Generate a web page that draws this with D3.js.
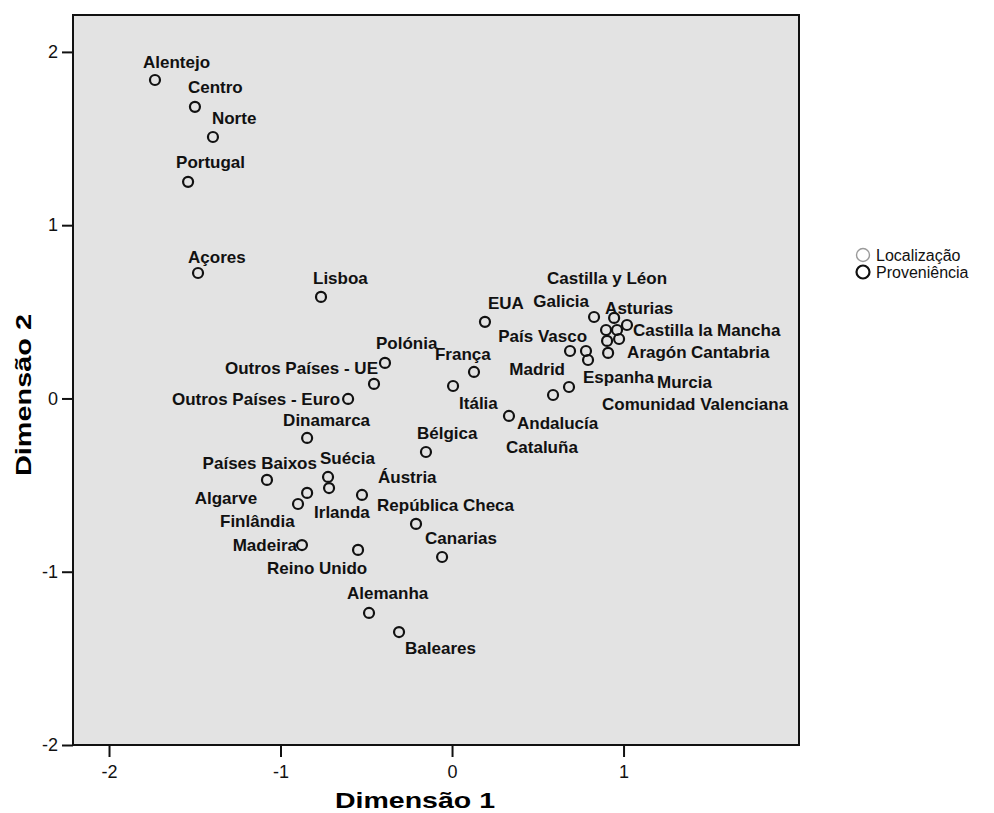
<!DOCTYPE html>
<html><head><meta charset="utf-8">
<script src="https://cdn.jsdelivr.net/npm/d3@7"></script>
<style>body{margin:0;background:#fff;} svg{display:block;}</style>
</head><body>
<svg id="chart" width="994" height="813"></svg>
<script>
// ---- data ----
const names = ["Alentejo","Centro","Norte","Portugal","Açores","Lisboa","EUA","Galicia","Asturias","Castilla la Mancha","Castilla y Léon","","Murcia","Cantabria","Aragón","País Vasco","Comunidad Valenciana","Espanha","Madrid","Cataluña","Andalucía","Polónia","Outros Países - UE","Outros Países - Euro","França","Itália","Dinamarca","Bélgica","Países Baixos","Suécia","Irlanda","Algarve","Finlândia","Áustria","República Checa","Canarias","Madeira","Reino Unido","Alemanha","Baleares"];
const groups = ["Localização","Localização","Localização","Proveniência","Localização","Localização","Proveniência","Localização","Localização","Localização","Localização","Localização","Localização","Localização","Localização","Localização","Localização","Proveniência","Localização","Localização","Localização","Proveniência","Proveniência","Proveniência","Proveniência","Proveniência","Proveniência","Proveniência","Proveniência","Proveniência","Proveniência","Localização","Proveniência","Proveniência","Proveniência","Localização","Localização","Proveniência","Proveniência","Localização"];
const dim1 = [-1.732,-1.499,-1.394,-1.539,-1.481,-0.764,0.192,0.828,0.945,1.020,0.898,0.962,0.904,0.974,0.910,0.688,0.781,0.793,0.682,0.589,0.332,-0.391,-0.455,-0.606,0.128,0.006,-0.845,-0.152,-1.079,-0.723,-0.717,-0.845,-0.898,-0.525,-0.210,-0.058,-0.875,-0.548,-0.484,-0.309];
const dim2 = [1.838,1.683,1.509,1.250,0.724,0.586,0.442,0.470,0.465,0.424,0.395,0.395,0.332,0.343,0.263,0.274,0.274,0.222,0.066,0.020,-0.101,0.205,0.084,-0.003,0.153,0.072,-0.228,-0.309,-0.470,-0.453,-0.517,-0.545,-0.609,-0.557,-0.724,-0.915,-0.846,-0.874,-1.238,-1.348];
const xTicks = [-2,-1,0,1];
const yTicks = [-2,-1,0,1,2];
const legendLabels = ["Localização","Proveniência"];
const xTitle = "Dimensão 1", yTitle = "Dimensão 2";

// ---- layout (label placement relative to each point, px) ----
const labelLayout = [[-12,-18,"start"],[-7,-20,"start"],[-1,-19,"start"],[-12,-20,"start"],[-10,-16,"start"],[-8,-19,"start"],[3,-19,"start"],[-5,-16,"end"],[-9,-10,"start"],[6,5,"start"],[-59,-52,"start"],[0,0,"start"],[50,41,"start"],[72,13,"start"],[19,-1,"start"],[17,-15,"end"],[16,53,"start"],[-5,17,"start"],[-4,-18,"end"],[-47,52,"start"],[8,7,"start"],[-9,-20,"start"],[4,-16,"end"],[-8,0,"end"],[-39,-18,"start"],[6,17,"start"],[-24,-18,"start"],[-9,-19,"start"],[50,-17,"end"],[-8,-19,"start"],[-15,24,"start"],[-50,5,"end"],[-78,17,"start"],[16,-18,"start"],[-39,-19,"start"],[-17,-19,"start"],[-5,0,"end"],[-91,18,"start"],[-22,-20,"start"],[6,16,"start"]];

const svg = d3.select("#chart");
const L = 73, R = 799, T = 15, B = 745;
const x = d3.scaleLinear().domain([-2.21, 2.023]).range([L, R]);
const y = d3.scaleLinear().domain([-2, 2.213]).range([B, T]);
const FONT = "'Liberation Sans', Arial, Helvetica, sans-serif";

svg.append("rect").attr("x", L).attr("y", T).attr("width", R - L).attr("height", B - T)
  .attr("fill", "#e3e3e3");

const data = names.map((n, i) => ({name: n, group: groups[i], d1: dim1[i], d2: dim2[i], lay: labelLayout[i]}));

// points
svg.append("g").selectAll("circle").data(data).join("circle")
  .attr("cx", d => x(d.d1)).attr("cy", d => y(d.d2)).attr("r", 5)
  .attr("fill", "none").attr("stroke", "#111").attr("stroke-width", 2.2);

// labels
svg.append("g").selectAll("text").data(data.filter(d => d.name)).join("text")
  .attr("x", d => x(d.d1) + d.lay[0]).attr("y", d => y(d.d2) + d.lay[1] + 6)
  .attr("text-anchor", d => d.lay[2])
  .attr("font-family", FONT).attr("font-weight", "bold").attr("font-size", 17)
  .attr("fill", "#111").text(d => d.name);

// frame
svg.append("rect").attr("x", L).attr("y", T).attr("width", R - L).attr("height", B - T)
  .attr("fill", "none").attr("stroke", "#111").attr("stroke-width", 2);

// axes
const xAxis = svg.append("g").attr("transform", `translate(0,${B})`)
  .call(d3.axisBottom(x).tickValues(xTicks).tickSize(12).tickPadding(8).tickFormat(d => String(d)));
const yAxis = svg.append("g").attr("transform", `translate(${L},0)`)
  .call(d3.axisLeft(y).tickValues(yTicks).tickSize(11).tickPadding(4).tickFormat(d => String(d)));
[xAxis, yAxis].forEach(a => {
  a.select(".domain").remove();
  a.selectAll(".tick line").attr("stroke", "#111").attr("stroke-width", 2);
  a.selectAll(".tick text").attr("font-family", FONT).attr("font-size", 18).attr("fill", "#111");
});

// titles
svg.append("text").attr("x", 415).attr("y", 808).attr("text-anchor", "middle")
  .attr("font-family", FONT).attr("font-weight", "bold").attr("font-size", 22)
  .attr("textLength", 160).attr("lengthAdjust", "spacingAndGlyphs").text(xTitle);
svg.append("text").attr("transform", "translate(31,395) rotate(-90)").attr("text-anchor", "middle")
  .attr("font-family", FONT).attr("font-weight", "bold").attr("font-size", 22)
  .attr("textLength", 162).attr("lengthAdjust", "spacingAndGlyphs").text(yTitle);

// legend
const lg = svg.append("g").selectAll("g").data(legendLabels).join("g")
  .attr("transform", (d, i) => `translate(863,${255 + i * 17})`);
lg.append("circle").attr("r", 6.5).attr("fill", "none")
  .attr("stroke", (d, i) => i === 0 ? "#9a9a9a" : "#111").attr("stroke-width", (d, i) => i === 0 ? 1.4 : 2.2);
lg.append("text").attr("x", 13).attr("y", 5.5).attr("font-family", FONT).attr("font-size", 16)
  .attr("fill", "#111").text(d => d);
</script>
</body></html>
